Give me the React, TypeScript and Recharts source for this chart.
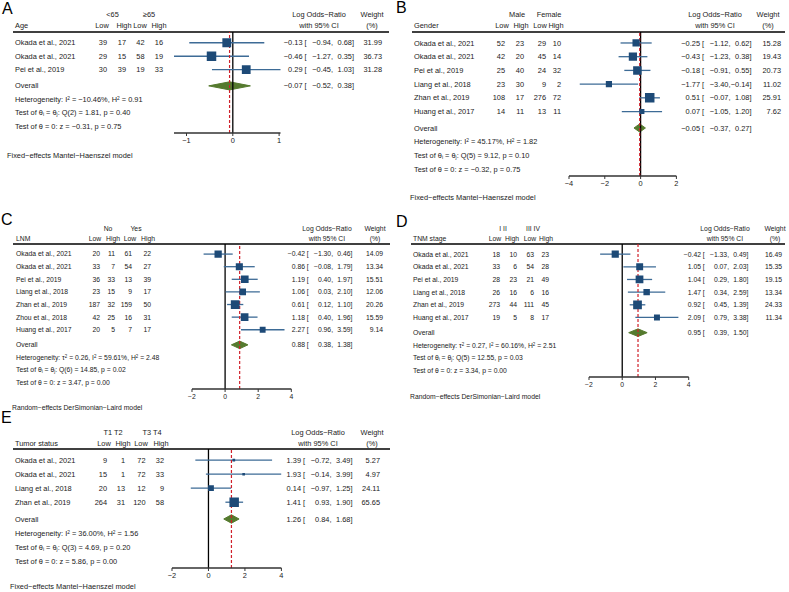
import React from 'react';
import { ComposedChart, Scatter, Area, XAxis, YAxis, ZAxis, ErrorBar, ReferenceLine } from 'recharts';

const FONT = '"Liberation Sans", Arial, sans-serif';
const FS = 7.4;
const SQUARE = '#1d4a77';
const CI_LINE = '#3d6b96';
const DIAMOND = '#557a2e';
const RED = '#d0202a';

// A - Age
const ageStudies = ['Okada et al., 2021', 'Okada et al., 2021', 'Pei et al., 2019'];
const ageCounts = [[39, 17, 42, 16], [29, 15, 58, 19], [30, 39, 19, 33]];
const ageEst = [-0.13, -0.46, 0.29];
const ageLo = [-0.94, -1.27, -0.45];
const ageHi = [0.68, 0.35, 1.03];
const ageWeight = [31.99, 36.73, 31.28];
const ageOverall = [-0.07, -0.52, 0.38];
const ageTicks = [-1, 0, 1];

// B - Gender
const genderStudies = ['Okada et al., 2021', 'Okada et al., 2021', 'Pei et al., 2019', 'Liang et al., 2018', 'Zhan et al., 2019', 'Huang et al., 2017'];
const genderCounts = [[52, 23, 29, 10], [42, 20, 45, 14], [25, 40, 24, 32], [23, 30, 9, 2], [108, 17, 276, 72], [14, 11, 13, 11]];
const genderEst = [-0.25, -0.43, -0.18, -1.77, 0.51, 0.07];
const genderLo = [-1.12, -1.23, -0.91, -3.4, -0.07, -1.05];
const genderHi = [0.62, 0.38, 0.55, -0.14, 1.08, 1.2];
const genderWeight = [15.28, 19.43, 20.73, 11.02, 25.91, 7.62];
const genderOverall = [-0.05, -0.37, 0.27];
const genderTicks = [-4, -2, 0, 2];

// C - LNM
const lnmStudies = ['Okada et al., 2021', 'Okada et al., 2021', 'Pei et al., 2019', 'Liang et al., 2018', 'Zhan et al., 2019', 'Zhou et al., 2018', 'Huang et al., 2017'];
const lnmCounts = [[20, 11, 61, 22], [33, 7, 54, 27], [36, 33, 13, 39], [23, 15, 9, 17], [187, 32, 159, 50], [42, 25, 16, 31], [20, 5, 7, 17]];
const lnmEst = [-0.42, 0.86, 1.19, 1.06, 0.61, 1.18, 2.27];
const lnmLo = [-1.3, -0.08, 0.4, 0.03, 0.12, 0.4, 0.96];
const lnmHi = [0.46, 1.79, 1.97, 2.1, 1.1, 1.96, 3.59];
const lnmWeight = [14.09, 13.34, 15.51, 12.06, 20.26, 15.59, 9.14];
const lnmOverall = [0.88, 0.38, 1.38];
const lnmTicks = [-2, 0, 2, 4];

// D - TNM stage
const tnmStudies = ['Okada et al., 2021', 'Okada et al., 2021', 'Pei et al., 2019', 'Liang et al., 2018', 'Zhan et al., 2019', 'Huang et al., 2017'];
const tnmCounts = [[18, 10, 63, 23], [33, 6, 54, 28], [28, 23, 21, 49], [26, 16, 6, 16], [273, 44, 111, 45], [19, 5, 8, 17]];
const tnmEst = [-0.42, 1.05, 1.04, 1.47, 0.92, 2.09];
const tnmLo = [-1.33, 0.07, 0.29, 0.34, 0.45, 0.79];
const tnmHi = [0.49, 2.03, 1.8, 2.59, 1.39, 3.38];
const tnmWeight = [16.49, 15.35, 19.15, 13.34, 24.33, 11.34];
const tnmOverall = [0.95, 0.39, 1.5];
const tnmTicks = [-2, 0, 2, 4];

// E - Tumor status
const tumorStudies = ['Okada et al., 2021', 'Okada et al., 2021', 'Liang et al., 2018', 'Zhan et al., 2019'];
const tumorCounts = [[9, 1, 72, 32], [15, 1, 72, 33], [20, 13, 12, 9], [264, 31, 120, 58]];
const tumorEst = [1.39, 1.93, 0.14, 1.41];
const tumorLo = [-0.72, -0.14, -0.97, 0.93];
const tumorHi = [3.49, 3.99, 1.25, 1.9];
const tumorWeight = [5.27, 4.97, 24.11, 65.65];
const tumorOverall = [1.26, 0.84, 1.68];
const tumorTicks = [-2, 0, 2, 4];

const FIXED = 'Fixed\u2212effects Mantel\u2212Haenszel model';
const RANDOM = 'Random\u2212effects DerSimonian\u2212Laird model';

type Het = { tau2?: string; i2: string; h2: string; df: number; q: string; qp: string; z: string; zp: string };

const panels = [
  {
    letter: 'A', letterX: 2, letterY: 14, title: 'Age', groups: ['<65', '\u226565'], s: 1,
    studies: ageStudies, counts: ageCounts, est: ageEst, lo: ageLo, hi: ageHi, weight: ageWeight, overall: ageOverall, ticks: ageTicks,
    het: { i2: '\u221210.46%', h2: '0.91', df: 2, q: '1.81', qp: '0.40', z: '\u22120.31', zp: '0.75' } as Het, model: FIXED,
    lineY: 32, axisY: 133, lineX1: 13, lineX2: 389, plotX1: 174.2, plotX2: 280.7, nameX: 15,
    countR: [107, 126, 144.5, 163], subC: [102, 124, 140, 159], groupC: [112.5, 149], h1: 18, h2o: 7,
    estR: 302.5, wR: 382, lorC: 319, wC: 372, modelX: 7, modelY: 155,
  },
  {
    letter: 'B', letterX: 396, letterY: 13, title: 'Gender', groups: ['Male', 'Female'], s: 1,
    studies: genderStudies, counts: genderCounts, est: genderEst, lo: genderLo, hi: genderHi, weight: genderWeight, overall: genderOverall, ticks: genderTicks,
    het: { i2: '45.17%', h2: '1.82', df: 5, q: '9.12', qp: '0.10', z: '\u22120.32', zp: '0.75' } as Het, model: FIXED,
    lineY: 32, axisY: 176, lineX1: 412, lineX2: 785, plotX1: 569.3, plotX2: 676.7, nameX: 414,
    countR: [505, 524, 546, 561], subC: [502, 521, 540, 556], groupC: [517, 549], h1: 18, h2o: 7,
    estR: 700, wR: 781, lorC: 715, wC: 768, modelX: 410, modelY: 197,
  },
  {
    letter: 'C', letterX: 1, letterY: 225, title: 'LNM', groups: ['No', 'Yes'], s: 0.92,
    studies: lnmStudies, counts: lnmCounts, est: lnmEst, lo: lnmLo, hi: lnmHi, weight: lnmWeight, overall: lnmOverall, ticks: lnmTicks,
    het: { tau2: '0.26', i2: '59.61%', h2: '2.48', df: 6, q: '14.85', qp: '0.02', z: '3.47', zp: '0.00' } as Het, model: RANDOM,
    lineY: 244, axisY: 389, lineX1: 13, lineX2: 390, plotX1: 192, plotX2: 291.3, nameX: 16,
    countR: [100, 115, 132, 151], subC: [95, 113, 130, 148], groupC: [108, 136], h1: 15, h2o: 5,
    estR: 305, wR: 383, lorC: 327, wC: 375, modelX: 12, modelY: 408,
  },
  {
    letter: 'D', letterX: 396, letterY: 227, title: 'TNM stage', groups: ['I II', 'III IV'], s: 0.92,
    studies: tnmStudies, counts: tnmCounts, est: tnmEst, lo: tnmLo, hi: tnmHi, weight: tnmWeight, overall: tnmOverall, ticks: tnmTicks,
    het: { tau2: '0.27', i2: '60.16%', h2: '2.51', df: 5, q: '12.55', qp: '0.03', z: '3.34', zp: '0.00' } as Het, model: RANDOM,
    lineY: 244, axisY: 377, lineX1: 411, lineX2: 785, plotX1: 589.3, plotX2: 689, nameX: 413,
    countR: [500, 517, 534, 549], subC: [495, 512, 530, 546], groupC: [503, 533], h1: 15, h2o: 5,
    estR: 701, wR: 782, lorC: 725, wC: 775, modelX: 410, modelY: 397,
  },
  {
    letter: 'E', letterX: 1, letterY: 423, title: 'Tumor status', groups: ['T1 T2', 'T3 T4'], s: 1,
    studies: tumorStudies, counts: tumorCounts, est: tumorEst, lo: tumorLo, hi: tumorHi, weight: tumorWeight, overall: tumorOverall, ticks: tumorTicks,
    het: { i2: '36.00%', h2: '1.56', df: 3, q: '4.69', qp: '0.20', z: '5.86', zp: '0.00' } as Het, model: FIXED,
    lineY: 449, axisY: 568, lineX1: 13, lineX2: 390, plotX1: 172.3, plotX2: 281.7, nameX: 15,
    countR: [107, 125, 145.6, 164], subC: [104, 123, 141, 161], groupC: [113, 152], h1: 17, h2o: 6,
    estR: 301, wR: 380, lorC: 318, wC: 372, modelX: 10, modelY: 586,
  },
];

type Panel = (typeof panels)[number];

const fmt = (v: number) => (v < 0 ? '\u2212' + Math.abs(v).toFixed(2) : v.toFixed(2));
const tickFmt = (v: number) => (v < 0 ? '\u2212' + Math.abs(v) : String(v));

type Seg = [string, ('sup' | 'sub')?];

function Rich({ x, y, segs, fs }: { x: number; y: number; segs: Seg[]; fs: number }) {
  return (
    <text x={x} y={y} dy="0.35em" fontSize={fs} fontFamily={FONT} fill="#1a1a1a">
      {segs.map(([t, k], i) =>
        k ? (
          <tspan key={i} baselineShift={k === 'sup' ? '45%' : '-25%'} fontSize={fs * 0.65}>{t}</tspan>
        ) : (
          <tspan key={i}>{t}</tspan>
        )
      )}
    </text>
  );
}

function hetLines(h: Het): Seg[][] {
  const first: Seg[] = [['Heterogeneity: ']];
  if (h.tau2) first.push(['\u03c4'], ['2', 'sup'], [` = ${h.tau2}, `]);
  first.push(['I'], ['2', 'sup'], [` = ${h.i2}, H`], ['2', 'sup'], [` = ${h.h2}`]);
  return [
    first,
    [['Test of \u03b8'], ['i', 'sub'], [' = \u03b8'], ['j', 'sub'], [`: Q(${h.df}) = ${h.q}, p = ${h.qp}`]],
    [[`Test of \u03b8 = 0: z = ${h.z}, p = ${h.zp}`]],
  ];
}

function PanelText({ p }: { p: Panel }) {
  const n = p.studies.length;
  const fs = FS * p.s;
  const rowH = (p.axisY - p.lineY) / (n + 4.5);
  const yOf = (r: number) => p.lineY + r * rowH;
  const t = { fontSize: fs, fill: '#1a1a1a', fontFamily: FONT };
  const ciText = (e: number, l: number, h: number, y: number, key: string) => (
    <g key={key}>
      <text x={p.estR} y={y} dy="0.35em" textAnchor="end" {...t}>{fmt(e)}</text>
      <text x={p.estR + 2 * p.s} y={y} dy="0.35em" {...t}>[</text>
      <text x={p.estR + 30.5 * p.s} y={y} dy="0.35em" textAnchor="end" {...t}>{fmt(l)},</text>
      <text x={p.estR + 51.5 * p.s} y={y} dy="0.35em" textAnchor="end" {...t}>{fmt(h)}]</text>
    </g>
  );
  const y1 = p.lineY - p.h1;
  const y2 = p.lineY - p.h2o;
  return (
    <g>
      <text x={p.letterX} y={p.letterY} fontSize={16} fontFamily={FONT} fill="#000">{p.letter}</text>
      <text x={p.groupC[0]} y={y1} dy="0.35em" textAnchor="middle" {...t}>{p.groups[0]}</text>
      <text x={p.groupC[1]} y={y1} dy="0.35em" textAnchor="middle" {...t}>{p.groups[1]}</text>
      <text x={p.lorC} y={y1} dy="0.35em" textAnchor="middle" {...t}>Log Odds{'\u2212'}Ratio</text>
      <text x={p.wC} y={y1} dy="0.35em" textAnchor="middle" {...t}>Weight</text>
      <text x={p.nameX} y={y2} dy="0.35em" {...t}>{p.title}</text>
      {['Low', 'High', 'Low', 'High'].map((s, j) => (
        <text key={j} x={p.subC[j]} y={y2} dy="0.35em" textAnchor="middle" {...t}>{s}</text>
      ))}
      <text x={p.lorC} y={y2} dy="0.35em" textAnchor="middle" {...t}>with 95% CI</text>
      <text x={p.wC} y={y2} dy="0.35em" textAnchor="middle" {...t}>(%)</text>
      <line x1={p.lineX1} x2={p.lineX2} y1={p.lineY} y2={p.lineY} stroke="#000" strokeWidth={1.4} />
      {p.studies.map((s, i) => {
        const y = yOf(i + 0.8);
        return (
          <g key={i}>
            <text x={p.nameX} y={y} dy="0.35em" {...t}>{s}</text>
            {p.counts[i].map((c, j) => (
              <text key={j} x={p.countR[j]} y={y} dy="0.35em" textAnchor="end" {...t}>{c}</text>
            ))}
            {ciText(p.est[i], p.lo[i], p.hi[i], y, 'ci')}
            <text x={p.wR} y={y} dy="0.35em" textAnchor="end" {...t}>{p.weight[i].toFixed(2)}</text>
          </g>
        );
      })}
      <text x={p.nameX} y={yOf(n + 1)} dy="0.35em" {...t}>Overall</text>
      {ciText(p.overall[0], p.overall[1], p.overall[2], yOf(n + 1), 'ov')}
      {hetLines(p.het).map((segs, k) => (
        <Rich key={k} x={p.nameX} y={yOf(n + 2 + k)} segs={segs} fs={fs} />
      ))}
      <text x={p.modelX} y={p.modelY} dy="0.35em" {...t}>{p.model}</text>
    </g>
  );
}

function Forest({ p }: { p: Panel }) {
  const n = p.studies.length;
  const pad = 12;
  const axisH = 16;
  const xMin = Math.min(p.ticks[0], ...p.lo);
  const xMax = Math.max(p.ticks[p.ticks.length - 1], ...p.hi);
  const maxW = Math.max(...p.weight);
  const points = p.studies.map((s, i) => ({
    x: p.est[i],
    y: i + 0.8,
    w: p.weight[i],
    err: [p.est[i] - p.lo[i], p.hi[i] - p.est[i]],
  }));
  const r = n + 1;
  const diamond = [
    { x: p.overall[1], band: [r, r] },
    { x: p.overall[0], band: [r - 0.3, r + 0.3] },
    { x: p.overall[2], band: [r, r] },
  ];
  return (
    <div style={{ position: 'absolute', left: p.plotX1 - pad, top: p.lineY }}>
      <ComposedChart
        width={p.plotX2 - p.plotX1 + pad * 2}
        height={p.axisY - p.lineY + axisH}
        margin={{ top: 0, right: pad, bottom: 0, left: pad }}
      >
        <XAxis
          dataKey="x"
          type="number"
          domain={[xMin, xMax]}
          ticks={p.ticks}
          allowDataOverflow
          height={axisH}
          tickFormatter={tickFmt}
          axisLine={{ stroke: '#333', strokeWidth: 1.3 }}
          tickLine={{ stroke: '#333', strokeWidth: 1 }}
          tickSize={3}
          tick={{ fontSize: FS * p.s, fill: '#1a1a1a', fontFamily: FONT }}
        />
        <YAxis dataKey="y" type="number" domain={[0, n + 4.5]} reversed hide />
        <ZAxis dataKey="w" type="number" domain={[0, maxW]} range={[0, 90 * p.s * p.s]} />
        <ReferenceLine x={0} stroke="#000" strokeWidth={1.3} />
        <Area
          data={diamond}
          dataKey="band"
          type="linear"
          stroke={DIAMOND}
          fill={DIAMOND}
          fillOpacity={1}
          dot={false}
          activeDot={false}
          isAnimationActive={false}
        />
        <Scatter data={points} shape="square" fill={SQUARE} isAnimationActive={false}>
          <ErrorBar dataKey="err" direction="x" width={0} stroke={CI_LINE} strokeWidth={1.3} />
        </Scatter>
        <ReferenceLine x={p.overall[0]} stroke={RED} strokeWidth={1.2} strokeDasharray="3 2" />
      </ComposedChart>
    </div>
  );
}

export default function App() {
  return (
    <div style={{ position: 'absolute', left: 0, top: 0, width: 789, height: 592, background: '#fff', fontFamily: FONT }}>
      <svg width={789} height={592} style={{ position: 'absolute', left: 0, top: 0 }}>
        {panels.map((p) => (
          <PanelText key={p.letter} p={p} />
        ))}
      </svg>
      {panels.map((p) => (
        <Forest key={p.letter} p={p} />
      ))}
    </div>
  );
}
